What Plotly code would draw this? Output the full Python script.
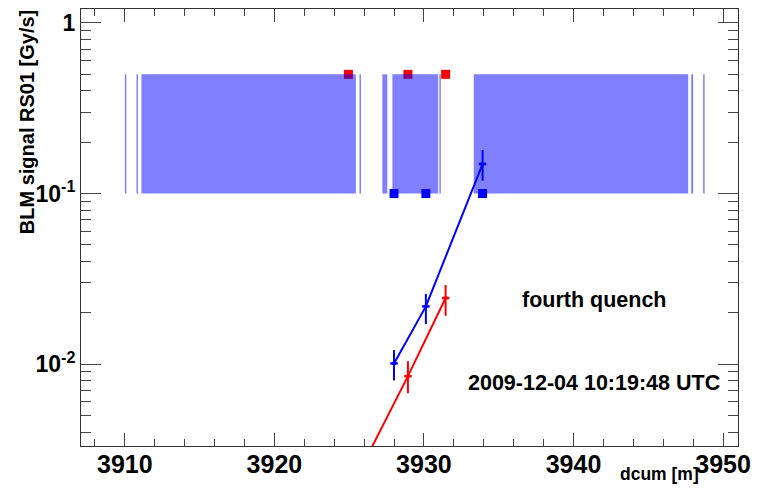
import plotly.graph_objects as go

# ---- data ----
# BLM positions (dcum, m) and signals (Gy/s)
blue_x = [3928.0, 3930.13, 3933.92]
blue_y = [0.0101, 0.0218, 0.149]
blue_hi = [0.0121, 0.0258, 0.180]
blue_lo = [0.00803, 0.0172, 0.119]

red_x = [3924.95, 3928.93, 3931.45]
red_y = [0.00175, 0.0085, 0.0244]
red_hi = [0.0021, 0.0104, 0.0291]
red_lo = [0.00145, 0.00675, 0.0192]

x_err = 0.25

# magnet / element extents along dcum (m)
elem_start = [3910.0, 3910.78, 3911.11, 3925.69, 3927.22, 3927.89, 3931.03, 3933.33, 3947.87, 3948.67]
elem_end   = [3910.1, 3910.88, 3925.45, 3925.79, 3927.55, 3930.95, 3931.13, 3947.67, 3948.0, 3948.77]
elem_low = 0.1
elem_high = 0.5

x_tickvals = [3910, 3920, 3930, 3940, 3950]
y_tickvals = [0.01, 0.1, 1]
y_ticktext = ["10<sup>-2</sup>", "10<sup>-1</sup>", "1"]
y_minor = [m * 10 ** k for k in range(-3, 1) for m in range(2, 10)]

FONT = "Liberation Sans"

fig = go.Figure()

# position markers
fig.add_trace(go.Scatter(x=red_x, y=[elem_high] * len(red_x), mode="markers",
                         marker=dict(symbol="square", size=9, color="#ff0000"),
                         showlegend=False, hoverinfo="skip"))
fig.add_trace(go.Scatter(x=blue_x, y=[elem_low] * len(blue_x), mode="markers",
                         marker=dict(symbol="square", size=9, color="#0000ff"),
                         showlegend=False, hoverinfo="skip"))

# element boxes
for s, e in zip(elem_start, elem_end):
    fig.add_trace(go.Scatter(x=[s, e, e, s, s], y=[elem_low, elem_low, elem_high, elem_high, elem_low],
                             mode="lines", fill="toself", fillcolor="rgba(0,0,255,0.5)",
                             line=dict(width=0, color="rgba(0,0,255,0)"),
                             showlegend=False, hoverinfo="skip"))

def add_series(xs, ys, hi, lo, color):
    fig.add_trace(go.Scatter(
        x=xs, y=ys, mode="lines+markers",
        line=dict(color=color, width=2),
        marker=dict(color=color, size=4, symbol="circle"),
        error_y=dict(type="data", symmetric=False,
                     array=[h - y for h, y in zip(hi, ys)],
                     arrayminus=[y - l for y, l in zip(ys, lo)],
                     color=color, thickness=2, width=0),
        error_x=dict(type="constant", value=x_err, color=color, thickness=2.5, width=0),
        showlegend=False, cliponaxis=True))

add_series(blue_x, blue_y, blue_hi, blue_lo, "#0000ff")
add_series(red_x, red_y, red_hi, red_lo, "#ff0000")

axis_common = dict(showgrid=False, zeroline=False, showline=True, linecolor="#333",
                   linewidth=1, mirror="ticks", ticks="inside", tickcolor="#444",
                   tickwidth=1)

fig.update_xaxes(**axis_common, range=[3907.07, 3951.0], tickmode="array", tickvals=x_tickvals,
                 ticklen=13, ticklabelstandoff=-4,
                 minor=dict(dtick=2, tick0=3900, ticks="inside", ticklen=7, tickcolor="#444", showgrid=False),
                 tickfont=dict(family=FONT, size=25, color="black", weight="bold"))
fig.update_yaxes(**axis_common, type="log", range=[-2.48, 0.082],
                 tickmode="array", tickvals=y_tickvals, ticktext=y_ticktext, ticklen=20,
                 minor=dict(tickmode="array", tickvals=y_minor, ticks="inside", ticklen=10,
                            tickcolor="#444", showgrid=False),
                 tickfont=dict(family=FONT, size=23, color="black", weight="bold"))

fig.add_annotation(text="fourth quench", xref="paper", yref="paper", x=0.782, y=0.335,
                   showarrow=False, xanchor="center", yanchor="middle",
                   font=dict(family=FONT, size=21.5, color="black", weight="bold"))
fig.add_annotation(text="2009-12-04 10:19:48 UTC", xref="paper", yref="paper", x=0.781, y=0.144,
                   showarrow=False, xanchor="center", yanchor="middle",
                   font=dict(family=FONT, size=21.5, color="black", weight="bold"))
fig.add_annotation(text="BLM signal RS01 [Gy/s]", xref="paper", yref="paper", x=-0.083, y=0.742,
                   showarrow=False, xanchor="center", yanchor="middle", textangle=-90,
                   font=dict(family=FONT, size=20, color="black", weight="bold"))
fig.add_annotation(text="dcum [m]", xref="paper", yref="paper", x=0.944, y=-0.064,
                   showarrow=False, xanchor="right", yanchor="middle",
                   font=dict(family=FONT, size=17.5, color="black", weight="bold"))

fig.update_layout(width=759, height=492, margin=dict(l=81, r=19, t=8, b=46),
                  plot_bgcolor="white", paper_bgcolor="white", showlegend=False)

fig.write_html("out.html")
